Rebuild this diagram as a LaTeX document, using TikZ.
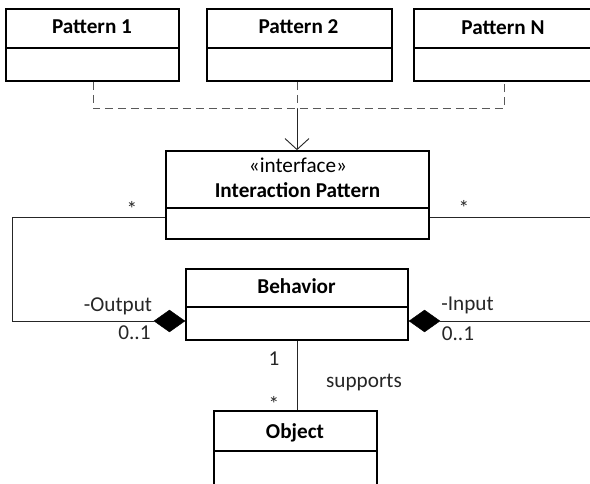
\documentclass[tikz,border=0pt]{standalone}
\usepackage{fontspec}
\setmainfont{Carlito}
\usetikzlibrary{arrows.meta,shapes.geometric}

\newcommand{\diagsize}{\fontsize{21.2pt}{25pt}\selectfont}

\tikzset{
  classbox/.style={draw=black, line width=1.7pt, inner sep=0pt},
  classtitle/.style={font=\diagsize\bfseries, inner sep=0pt, anchor=base},
  stereo/.style={font=\diagsize, inner sep=0pt, anchor=base},
  divider/.style={draw=black, line width=1.5pt},
  link/.style={draw=black!85, line width=0.9pt},
  realizes/.style={draw=black!65, line width=1pt, dash pattern=on 8pt off 5pt},
  compose/.style={diamond, fill=black, draw=black, inner sep=0pt,
                  minimum width=31pt, minimum height=22pt},
  mult/.style={font=\diagsize, inner sep=0pt, anchor=base, text=black!85}
}

\begin{document}
\begin{tikzpicture}[x=1pt, y=-1pt]
  \clip (0,0) rectangle (590,484);
  \fill[white] (0,0) rectangle (590,484);

  % pattern classes
  \node[classbox, minimum width=173pt, minimum height=72pt] (p1) at (92.5,45) {};
  \node[classbox, minimum width=185pt, minimum height=72pt] (p2) at (299.5,45) {};
  \node[classbox, minimum width=178pt, minimum height=72pt] (pN) at (503,45) {};
  \node[classtitle] (p1t) at (92,34) {Pattern 1};
  \node[classtitle] (p2t) at (298.5,34) {Pattern 2};
  \node[classtitle] (pNt) at (503,35) {Pattern N};
  \draw[divider] (p1.west |- 0,48) -- (p1.east |- 0,48);
  \draw[divider] (p2.west |- 0,48) -- (p2.east |- 0,48);
  \draw[divider] (pN.west |- 0,48) -- (pN.east |- 0,48);

  % interface
  \node[classbox, minimum width=263pt, minimum height=88pt] (ip) at (297.5,195) {};
  \node[stereo] (ipst) at (298,173) {«interface»};
  \node[classtitle] (ipt) at (297.5,198) {Interaction Pattern};
  \draw[divider] (ip.west |- 0,208) -- (ip.east |- 0,208);

  % behavior
  \node[classbox, minimum width=222pt, minimum height=71pt] (beh) at (297,304.5) {};
  \node[classtitle] (beht) at (296.5,294) {Behavior};
  \draw[divider] (beh.west |- 0,307) -- (beh.east |- 0,307);

  % object
  \node[classbox, minimum width=163pt, minimum height=90pt] (obj) at (295.5,456) {};
  \node[classtitle] (objt) at (295,438) {Object};
  \draw[divider] (obj.west |- 0,451) -- (obj.east |- 0,451);

  % realization of the interface
  \coordinate (bus) at (297,109);
  \draw[realizes] ([xshift=0.5pt]p1.south) |- (bus) -| ([xshift=1pt]pN.south);
  \draw[realizes] ([xshift=-2.5pt]p2.south) -- (bus);
  \draw[link, -{Straight Barb[length=11pt,width=24pt]}] (bus) -- (bus |- ip.north);

  % composition ends
  \node[compose, anchor=east] (ldia) at ([yshift=-16.5pt]beh.west) {};
  \node[compose, anchor=west] (rdia) at ([yshift=-16.5pt]beh.east) {};

  \coordinate (lcorner) at (12,217);
  \coordinate (rcorner) at (600,217);
  \draw[link] ([yshift=-22pt]ip.west) -- (lcorner) |- (ldia.west);
  \draw[link] ([yshift=-22pt]ip.east) -- (rcorner) |- (rdia.east);
  \draw[link] (beh.south) -- (beh.south |- obj.north);

  % multiplicities and role names
  \node[mult] (m1) at (132,217) {*};
  \node[mult] (m2) at (464,216) {*};
  \node[mult] (outl) at (118,312) {-Output};
  \node[mult] (outm) at (134.5,340) {0..1};
  \node[mult] (inl) at (467.5,311) {-Input};
  \node[mult] (inm) at (458,341) {0..1};
  \node[mult] (m3) at (274,365) {1};
  \node[mult] (sup) at (364,387) {supports};
  \node[mult] (m4) at (274,411) {*};
\end{tikzpicture}
\end{document}
